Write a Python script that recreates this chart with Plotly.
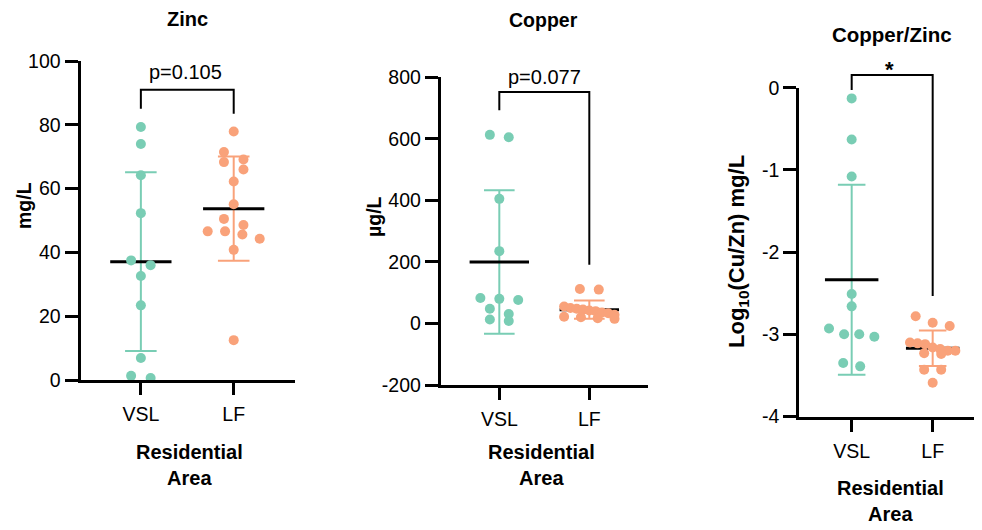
import statistics
import plotly.graph_objects as go

W, H = 982, 530
PAGE_OFFSET = 8  # the browser page adds an 8px body margin around the figure

# ---------------- data ----------------
groups = ["VSL", "LF"]

zinc_vsl = [79.3, 74.0, 64.2, 52.3, 37.5, 36.0, 32.6, 23.4, 6.9, 1.3, 0.6]
zinc_lf = [77.9, 71.5, 69.1, 68.3, 66.0, 62.2, 55.1, 50.5, 48.6, 46.6, 46.6,
           45.6, 44.3, 40.8, 12.5]

copper_vsl = [613, 605, 405, 235, 83, 80, 76, 48, 31, 13, 8]
copper_lf = [112, 110, 55, 50, 48, 45, 42, 40, 36, 33, 28, 22, 20, 17, 15]

ratio_vsl = [-0.13, -0.63, -1.08, -2.51, -2.66, -2.93, -3.00, -3.00, -3.03,
             -3.35, -3.39]
ratio_lf = [-2.78, -2.86, -2.90, -3.10, -3.11, -3.12, -3.16, -3.18, -3.20,
            -3.20, -3.23, -3.24, -3.43, -3.43, -3.59]

zinc_ticks = [0, 20, 40, 60, 80, 100]
copper_ticks = [-200, 0, 200, 400, 600, 800]
ratio_ticks = [-4, -3, -2, -1, 0]

panel_titles = ["Zinc", "Copper", "Copper/Zinc"]
y_titles = ["mg/L", "µg/L", "Log<sub>10</sub>(Cu/Zn) mg/L"]
p_labels = ["p=0.105", "p=0.077", "*"]

# ---------------- styling / layout ----------------
TEAL = "#79CDB4"
ORANGE = "#F9A27A"
FONT = "Liberation Sans, Arial, Helvetica, sans-serif"


def px_x(x):
    return (x - PAGE_OFFSET) / W


def px_y(y):
    return 1 - (y - PAGE_OFFSET) / H


panels = [
    dict(values=(zinc_vsl, zinc_lf), ticks=zinc_ticks, box=(80.5, 295, 61, 380), yrange=(0, 100),
         xrange=(-0.65, 1.66), bracket=(91.0, 85.0, 83.5),
         title_xy=(187.7, 19), title_size=20, ytitle_xy=(24, 205), ytitle_size=19.5,
         xtitle_xy=(189, 464.5), p_xy=(185, 71.7), p_size=20, p_bold=False),
    dict(values=(copper_vsl, copper_lf), ticks=copper_ticks, box=(440.8, 648, 77.3, 385),
         yrange=(-200, 800), xrange=(-0.65, 1.652), bracket=(752, 693, 191),
         title_xy=(543.7, 20), title_size=19.5, ytitle_xy=(374, 217), ytitle_size=19.5,
         xtitle_xy=(541, 465), p_xy=(544.3, 76.7), p_size=20, p_bold=False),
    dict(values=(ratio_vsl, ratio_lf), ticks=ratio_ticks, box=(799.2, 982, 87.7, 416.5),
         yrange=(-4, 0), xrange=(-0.648, 1.609), bracket=(0.154, -0.028, -2.533),
         title_xy=(891.7, 35), title_size=20.5, ytitle_xy=(738, 252), ytitle_size=22,
         xtitle_xy=(890.7, 500.8), p_xy=(889, 70), p_size=22, p_bold=True),
]


def swarm(values, px_per_unit, bin_px=10.0, step=0.21, half_max=0.28):
    """Prism-like scatter spreading: points close in value share a row."""
    order = sorted(range(len(values)), key=lambda i: -values[i])
    offsets = [0.0] * len(values)
    rows, cur = [], []
    for i in order:
        if cur and (values[cur[0]] - values[i]) * px_per_unit > bin_px:
            rows.append(cur)
            cur = []
        cur.append(i)
    rows.append(cur)
    for row in rows:
        n = len(row)
        if n == 1:
            continue
        s = min(step, 2 * half_max / (n - 1))
        for k, i in enumerate(row):
            offsets[i] = (k - (n - 1) / 2) * s
    return offsets


fig = go.Figure()
shapes, annotations = [], []
layout_axes = {}

for p_i, P in enumerate(panels):
    n = "" if p_i == 0 else str(p_i + 1)
    xref, yref = "x" + n, "y" + n
    left, right, top, bottom = P["box"]
    dom_x = [px_x(left), px_x(right)]
    dom_y = [px_y(bottom), px_y(top)]
    y0, y1 = P["yrange"]
    px_per_unit = (bottom - top) / (y1 - y0)

    def to_paper_y(v, dom_y=dom_y, y0=y0, y1=y1):
        return dom_y[0] + (v - y0) / (y1 - y0) * (dom_y[1] - dom_y[0])

    for g_i, (vals, col) in enumerate(zip(P["values"], (TEAL, ORANGE))):
        m = statistics.mean(vals)
        sd = statistics.stdev(vals)
        # SD error bar with caps
        fig.add_trace(go.Scatter(
            x=[g_i, g_i, None, g_i - 0.17, g_i + 0.17, None, g_i - 0.17, g_i + 0.17],
            y=[m - sd, m + sd, None, m + sd, m + sd, None, m - sd, m - sd],
            mode="lines", line=dict(color=col, width=2),
            xaxis=xref, yaxis=yref, showlegend=False, hoverinfo="skip"))
        # mean line
        fig.add_trace(go.Scatter(
            x=[g_i - 0.33, g_i + 0.33], y=[m, m], mode="lines",
            line=dict(color="black", width=3),
            xaxis=xref, yaxis=yref, showlegend=False, hoverinfo="skip"))
    for g_i, (vals, col) in enumerate(zip(P["values"], (TEAL, ORANGE))):
        offs = swarm(vals, px_per_unit)
        fig.add_trace(go.Scatter(
            x=[g_i + o for o in offs], y=vals, mode="markers",
            marker=dict(color=col, size=10, line=dict(width=0)),
            xaxis=xref, yaxis=yref, showlegend=False, cliponaxis=False,
            name=groups[g_i]))

    layout_axes["xaxis" + n] = dict(
        domain=dom_x, range=list(P["xrange"]), anchor=yref, automargin=False,
        tickvals=[0, 1], ticktext=groups, ticks="outside", ticklen=12, tickwidth=3,
        tickcolor="black", showline=True, linewidth=3, linecolor="black",
        showgrid=False, zeroline=False, fixedrange=True, ticklabelstandoff=3,
        tickfont=dict(family=FONT, size=19.5, color="black"))
    layout_axes["yaxis" + n] = dict(
        domain=dom_y, range=[y0, y1], anchor=xref, automargin=False,
        tickvals=P["ticks"], ticktext=[str(t) for t in P["ticks"]],
        ticks="outside", ticklen=13, tickwidth=3, tickcolor="black",
        showline=True, linewidth=3, linecolor="black", showgrid=False,
        zeroline=False, fixedrange=True,
        tickfont=dict(family=FONT, size=19.5, color="black"))

    # significance bracket
    b_top, b_left, b_right = P["bracket"]
    shapes.append(dict(
        type="path", xref=xref, yref="paper",
        path=f"M 0 {to_paper_y(b_left)} L 0 {to_paper_y(b_top)} "
             f"L 1 {to_paper_y(b_top)} L 1 {to_paper_y(b_right)}",
        line=dict(color="black", width=2)))

    def ann(text, xy, size, bold=False, angle=0):
        annotations.append(dict(
            text=f"<b>{text}</b>" if bold else text, x=px_x(xy[0]), y=px_y(xy[1]),
            xref="paper", yref="paper", xanchor="center", yanchor="middle",
            showarrow=False, textangle=angle,
            font=dict(family=FONT, size=size, color="black")))

    ann(panel_titles[p_i], P["title_xy"], P["title_size"], bold=True)
    ann(y_titles[p_i], P["ytitle_xy"], P["ytitle_size"], bold=True, angle=-90)
    ann("Residential<br>Area", P["xtitle_xy"], 20, bold=True)
    ann(p_labels[p_i], P["p_xy"], P["p_size"], bold=P["p_bold"])

fig.update_layout(
    width=W, height=H, autosize=False,
    margin=dict(l=0, r=0, t=0, b=0, pad=0, autoexpand=False),
    paper_bgcolor="white", plot_bgcolor="white",
    font=dict(family=FONT, color="black"),
    shapes=shapes, annotations=annotations, showlegend=False,
    **layout_axes)

fig.write_html("out.html")
